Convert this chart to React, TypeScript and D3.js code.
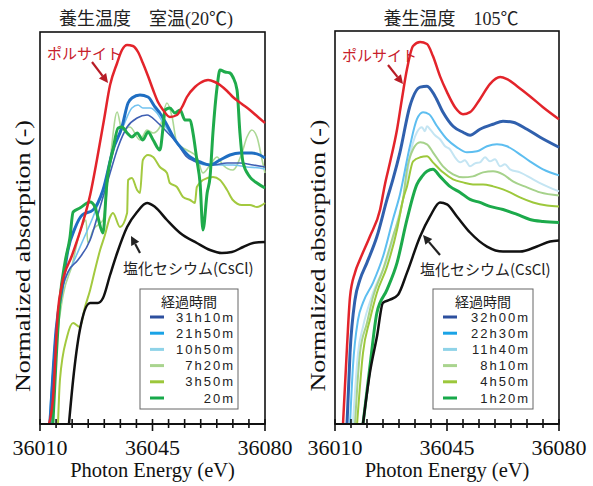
import React from "react";
import * as d3 from "d3";

type Pt = [number, number];

// x: photon energy (eV), y: normalized absorption
const energyDomain: [number, number] = [36010, 36080];
const absDomain: [number, number] = [0, 1.96];
const majorTicks = [36010, 36045, 36080];

const legendRT = ["31h10m", "21h50m", "10h50m", "7h20m", "3h50m", "20m"];
const legend105 = ["32h00m", "22h30m", "11h40m", "8h10m", "4h50m", "1h20m"];
const legendColors = ["#2d4f9e", "#1aa3e6", "#8fd3e8", "#a9d48e", "#9cc73b", "#17a94a"];

// ---- room temperature (20C)
const polluciteRT: Pt[] = [
  [36012.8, 0], [36014.0, 0.12], [36015.6, 0.57], [36016.8, 0.695], [36020.0, 0.845], [36023.1, 0.995],
  [36025.6, 1.145], [36027.7, 1.32], [36029.9, 1.52], [36031.8, 1.695], [36034.0, 1.805], [36035.5, 1.87],
  [36037.1, 1.895], [36038.9, 1.89], [36040.5, 1.86], [36042.0, 1.805], [36043.6, 1.74], [36045.2, 1.67],
  [36046.7, 1.61], [36048.3, 1.57], [36050.4, 1.535], [36052.6, 1.545], [36054.2, 1.585], [36055.7, 1.635],
  [36058.2, 1.685], [36059.8, 1.705], [36062.3, 1.72], [36064.4, 1.71], [36066.0, 1.695], [36068.2, 1.665],
  [36070.0, 1.635], [36072.8, 1.6], [36075.3, 1.57], [36077.8, 1.535], [36080, 1.505],
];
const rt31h10: Pt[] = [
  [36013.1, 0], [36014.7, 0.42], [36016.2, 0.62], [36018.7, 0.76], [36021.8, 0.82], [36025.6, 0.92],
  [36028.7, 1.085], [36031.8, 1.255], [36034.3, 1.385], [36037.1, 1.485], [36040.2, 1.53], [36043.3, 1.545],
  [36046.4, 1.51], [36049.5, 1.46], [36052.6, 1.405], [36055.7, 1.335], [36059.8, 1.305], [36063.8, 1.295],
  [36068.2, 1.305], [36072.2, 1.305], [36076.3, 1.295], [36080, 1.285],
];
const rt21h50: Pt[] = [
  [36013.1, 0], [36015.0, 0.47], [36016.8, 0.67], [36018.7, 0.87], [36020.9, 0.98], [36023.1, 1.045],
  [36026.5, 1.07], [36029.6, 1.17], [36032.7, 1.37], [36035.5, 1.485], [36037.4, 1.605], [36038.6, 1.63],
  [36041.1, 1.645], [36043.6, 1.635], [36045.8, 1.585], [36047.3, 1.555], [36049.5, 1.495], [36052.0, 1.42],
  [36054.5, 1.37], [36056.7, 1.335], [36059.8, 1.31], [36062.9, 1.295], [36066.0, 1.32], [36069.1, 1.345],
  [36072.2, 1.355], [36075.9, 1.355], [36078.4, 1.345], [36080, 1.33],
];
const rt10h50: Pt[] = [
  [36012.8, 0], [36014.7, 0.395], [36017.2, 0.685], [36020.3, 0.805], [36023.4, 0.92], [36026.5, 1.035],
  [36029.6, 1.17], [36032.7, 1.37], [36035.8, 1.485], [36038.6, 1.58], [36040.5, 1.595], [36042.0, 1.58],
  [36044.2, 1.58], [36046.4, 1.555], [36048.3, 1.505], [36051.4, 1.435], [36054.5, 1.37], [36057.6, 1.32],
  [36062.0, 1.295], [36066.0, 1.295], [36070.0, 1.295], [36074.4, 1.285], [36078.4, 1.28], [36080, 1.275],
];
const rt7h20: Pt[] = [
  [36013.7, 0], [36015.3, 0.42], [36017.2, 0.645], [36020.0, 0.795], [36022.4, 0.96], [36024.3, 1.02],
  [36024.9, 0.905], [36026.5, 0.97], [36029.6, 1.02], [36031.8, 1.32], [36034.0, 1.56], [36035.5, 1.47],
  [36038.0, 1.485], [36041.1, 1.42], [36043.3, 1.47], [36045.2, 1.455], [36047.3, 1.485], [36049.5, 1.605],
  [36051.1, 1.535], [36052.6, 1.405], [36055.7, 1.37], [36058.8, 1.335], [36060.7, 1.255], [36062.9, 1.295],
  [36065.1, 1.335], [36066.9, 1.295], [36070.0, 1.27], [36072.8, 1.355], [36074.4, 1.435], [36075.9, 1.47],
  [36077.5, 1.435], [36079.1, 1.32], [36080, 1.255],
];
const rt3h50: Pt[] = [
  [36015.6, 0], [36016.2, 0.22], [36018.4, 0.435], [36020.3, 0.505], [36022.4, 0.485], [36024.0, 0.585],
  [36025.6, 0.67], [36027.1, 0.77], [36028.7, 0.87], [36030.2, 0.945], [36031.8, 1.035], [36032.7, 1.055],
  [36034.9, 0.985], [36037.1, 1.055], [36037.4, 1.22], [36038.6, 1.23], [36040.2, 1.17], [36041.1, 1.155],
  [36042.0, 1.32], [36043.6, 1.345], [36045.2, 1.335], [36047.3, 1.285], [36049.5, 1.255], [36050.4, 1.205],
  [36052.6, 1.185], [36054.5, 1.135], [36056.7, 1.12], [36058.2, 1.105], [36058.8, 1.185], [36060.7, 1.22],
  [36063.8, 1.235], [36066.0, 1.22], [36068.2, 1.17], [36070.0, 1.12], [36072.8, 1.095], [36075.3, 1.095],
  [36077.5, 1.085], [36080, 1.105],
];
const rt20m: Pt[] = [
  [36014.0, 0], [36015.0, 0.32], [36016.2, 0.62], [36017.8, 0.81], [36019.3, 0.93], [36020.3, 1.06],
  [36022.4, 1.08], [36025.6, 1.11], [36027.1, 1.085], [36028.0, 1.035], [36029.6, 0.955], [36030.8, 1.205],
  [36032.7, 1.37], [36034.3, 1.48], [36035.5, 1.485], [36037.1, 1.455], [36038.6, 1.435], [36040.2, 1.455],
  [36042.0, 1.42], [36043.6, 1.46], [36045.2, 1.42], [36047.3, 1.37], [36048.3, 1.485], [36048.9, 1.57],
  [36050.4, 1.58], [36052.0, 1.555], [36053.6, 1.57], [36055.1, 1.52], [36056.7, 1.52], [36057.6, 1.455],
  [36058.8, 1.32], [36059.8, 1.205], [36060.7, 0.97], [36062.0, 1.155], [36062.9, 1.235], [36063.8, 1.455],
  [36065.1, 1.685], [36066.0, 1.77], [36067.6, 1.76], [36069.1, 1.755], [36070.0, 1.735], [36071.3, 1.67],
  [36072.2, 1.455], [36073.2, 1.305], [36075.3, 1.235], [36077.5, 1.205], [36080, 1.18],
];
const cesiumRT: Pt[] = [
  [36019.0, 0], [36020.3, 0.22], [36022.4, 0.47], [36025.6, 0.605], [36028.0, 0.605], [36029.6, 0.63],
  [36031.8, 0.745], [36034.0, 0.855], [36037.1, 0.985], [36040.2, 1.06], [36043.3, 1.105], [36045.8, 1.085],
  [36049.5, 1.02], [36053.6, 0.955], [36058.8, 0.905], [36062.9, 0.87], [36066.6, 0.855], [36069.7, 0.86],
  [36073.2, 0.885], [36076.3, 0.905], [36080, 0.91],
];

// ---- 105C
const pollucite105: Pt[] = [
  [36012.5, 0], [36013.75, 0.385], [36014.7, 0.635], [36016.25, 0.755], [36017.8, 0.82], [36020.9, 0.935],
  [36024.1, 1.07], [36025.6, 1.195], [36027.2, 1.305], [36029.4, 1.47], [36030.9, 1.62], [36032.5, 1.77],
  [36034.4, 1.885], [36036.6, 1.905], [36038.75, 1.895], [36040.6, 1.835], [36042.8, 1.735], [36045.0, 1.655],
  [36047.5, 1.58], [36050.0, 1.545], [36052.2, 1.555], [36055.3, 1.62], [36058.4, 1.695], [36061.6, 1.73],
  [36063.75, 1.72], [36066.9, 1.685], [36070.9, 1.635], [36075.0, 1.58], [36080, 1.52],
];
const h32h00: Pt[] = [
  [36013.75, 0], [36014.7, 0.355], [36016.25, 0.62], [36017.8, 0.72], [36020.0, 0.805], [36023.1, 0.935],
  [36026.25, 1.12], [36028.1, 1.22], [36030.3, 1.355], [36033.4, 1.585], [36036.6, 1.68], [36038.75, 1.685],
  [36041.25, 1.635], [36043.75, 1.555], [36046.9, 1.485], [36050.0, 1.455], [36052.2, 1.44], [36055.3, 1.47],
  [36059.4, 1.495], [36062.5, 1.51], [36065.6, 1.505], [36070.0, 1.47], [36074.1, 1.43], [36080, 1.38],
];
const h22h30: Pt[] = [
  [36014.7, 0], [36015.6, 0.285], [36017.2, 0.52], [36018.75, 0.605], [36021.9, 0.705], [36025.0, 0.835],
  [36028.1, 1.02], [36030.3, 1.145], [36033.4, 1.385], [36035.6, 1.52], [36037.5, 1.555], [36039.4, 1.545],
  [36041.9, 1.485], [36045.0, 1.42], [36048.1, 1.38], [36051.25, 1.355], [36054.4, 1.36], [36057.5, 1.385],
  [36060.6, 1.395], [36063.75, 1.385], [36066.9, 1.355], [36070.9, 1.31], [36075.0, 1.27], [36080, 1.24],
];
const h11h40: Pt[] = [
  [36015.6, 0], [36017.2, 0.355], [36018.75, 0.485], [36021.9, 0.655], [36026.25, 0.82], [36029.4, 1.005],
  [36031.9, 1.17], [36033.4, 1.335], [36035.6, 1.455], [36037.2, 1.48], [36038.1, 1.46], [36038.75, 1.485],
  [36039.7, 1.47], [36041.25, 1.44], [36042.8, 1.42], [36044.4, 1.385], [36045.9, 1.37], [36047.5, 1.33],
  [36049.1, 1.305], [36050.6, 1.315], [36052.2, 1.285], [36053.75, 1.3], [36055.3, 1.305], [36056.9, 1.33],
  [36058.4, 1.31], [36060.0, 1.32], [36061.6, 1.285], [36063.1, 1.295], [36064.7, 1.27], [36067.8, 1.255],
  [36071.9, 1.22], [36076.25, 1.185], [36080, 1.16],
];
const h8h10: Pt[] = [
  [36016.25, 0], [36017.8, 0.355], [36020.0, 0.505], [36021.9, 0.635], [36025.0, 0.77], [36028.1, 0.935],
  [36031.25, 1.12], [36032.5, 1.27], [36034.4, 1.37], [36036.6, 1.405], [36038.75, 1.395], [36040.6, 1.355],
  [36043.75, 1.285], [36046.9, 1.245], [36050.0, 1.23], [36053.1, 1.235], [36056.25, 1.255], [36059.4, 1.26],
  [36062.5, 1.245], [36065.6, 1.21], [36070.0, 1.18], [36074.1, 1.155], [36080, 1.14],
];
const h4h50: Pt[] = [
  [36016.9, 0], [36018.75, 0.355], [36020.9, 0.52], [36023.1, 0.655], [36026.25, 0.785], [36029.4, 0.97],
  [36031.25, 1.12], [36032.5, 1.185], [36034.4, 1.31], [36036.6, 1.33], [36038.75, 1.335], [36040.6, 1.305],
  [36043.75, 1.255], [36046.9, 1.22], [36050.0, 1.205], [36053.1, 1.195], [36056.25, 1.195], [36059.4, 1.185],
  [36062.5, 1.17], [36064.7, 1.155], [36067.8, 1.13], [36071.9, 1.105], [36076.25, 1.09], [36080, 1.085],
];
const h1h20: Pt[] = [
  [36018.75, 0], [36020.9, 0.285], [36023.1, 0.555], [36026.25, 0.67], [36029.4, 0.805], [36032.5, 1.02],
  [36035.6, 1.195], [36037.2, 1.235], [36038.75, 1.26], [36040.6, 1.27], [36042.8, 1.235], [36045.9, 1.185],
  [36049.1, 1.155], [36052.2, 1.12], [36055.3, 1.105], [36058.4, 1.085], [36062.5, 1.07], [36066.9, 1.045],
  [36070.9, 1.02], [36075.0, 1.01], [36080, 1.005],
];
const cesium105: Pt[] = [
  [36018.75, 0], [36020.9, 0.255], [36023.1, 0.435], [36025.0, 0.605], [36027.2, 0.62], [36029.7, 0.645],
  [36032.5, 0.755], [36036.6, 0.935], [36039.7, 1.035], [36042.8, 1.105], [36045.0, 1.095], [36048.1, 1.035],
  [36052.2, 0.955], [36057.5, 0.885], [36062.5, 0.86], [36067.8, 0.86], [36073.1, 0.885], [36077.2, 0.91],
  [36080, 0.915],
];

type Series = { data: Pt[]; color: string; width: number };

const seriesRT: Series[] = [
  { data: rt7h20, color: "#acd895", width: 1.6 },
  { data: rt3h50, color: "#a3c93f", width: 2 },
  { data: rt10h50, color: "#72c2f0", width: 1.6 },
  { data: rt31h10, color: "#3f5fb3", width: 1.6 },
  { data: rt21h50, color: "#1f6ec2", width: 3 },
  { data: rt20m, color: "#1fab4b", width: 3 },
  { data: polluciteRT, color: "#e3242b", width: 2.5 },
  { data: cesiumRT, color: "#111111", width: 2.5 },
];
const series105: Series[] = [
  { data: h11h40, color: "#c4e5f3", width: 2 },
  { data: h8h10, color: "#a6d28b", width: 2 },
  { data: h4h50, color: "#9dc83b", width: 2 },
  { data: h22h30, color: "#5dbef0", width: 2 },
  { data: h1h20, color: "#1caa4b", width: 3 },
  { data: h32h00, color: "#3060ad", width: 3 },
  { data: pollucite105, color: "#e3242b", width: 2.5 },
  { data: cesium105, color: "#111111", width: 2.5 },
];

const serif = "'Liberation Serif', 'Times New Roman', 'Noto Sans CJK JP', serif";
const sans = "'Noto Sans CJK JP', 'Liberation Sans', sans-serif";

const Arrow = ({ x1, y1, x2, y2, color }: { x1: number; y1: number; x2: number; y2: number; color: string }) => {
  const a = Math.atan2(y2 - y1, x2 - x1);
  const L = 9, Wd = 4.5;
  const bx = x2 - L * Math.cos(a), by = y2 - L * Math.sin(a);
  const p = [
    [x2, y2],
    [bx + Wd * Math.sin(a), by - Wd * Math.cos(a)],
    [bx - Wd * Math.sin(a), by + Wd * Math.cos(a)],
  ];
  return (
    <g>
      <line x1={x1} y1={y1} x2={bx} y2={by} stroke={color} strokeWidth={2.2} />
      <polygon points={p.map((q) => q.join(",")).join(" ")} fill={color} />
    </g>
  );
};

type PanelProps = {
  left: number; right: number; top: number; bottom: number;
  title: string; titleX: number; series: Series[]; legend: string[];
  legendBox: [number, number]; // left, right
  polLabel: [number, number]; polArrow: [number, number, number, number];
  csLabel: [number, number]; csArrow: [number, number, number, number];
  yLabelX: number;
};

const Panel = (p: PanelProps) => {
  const x = d3.scaleLinear().domain(energyDomain).range([p.left, p.right]);
  const y = d3.scaleLinear().domain(absDomain).range([p.bottom, p.top]);
  const line = d3.line<Pt>().x((d) => x(d[0])).y((d) => y(d[1])).curve(d3.curveMonotoneX);
  const ticks = d3.range(energyDomain[0], energyDomain[1] + 1, 5);
  const cx = (p.left + p.right) / 2;
  const [lx0, lx1] = p.legendBox;
  const rowY = (i: number) => 317 + i * 16.2;

  return (
    <g>
      <text x={p.titleX} y={25} textAnchor="middle" fontFamily={serif} fontSize={18} fill="#222">{p.title}</text>
      <rect x={p.left} y={p.top} width={p.right - p.left} height={p.bottom - p.top} fill="none" stroke="#111" strokeWidth={1.6} />
      {p.series.map((s, i) => (
        <path key={i} d={line(s.data) || ""} fill="none" stroke={s.color} strokeWidth={s.width} strokeLinejoin="round" />
      ))}
      <line x1={p.left} x2={p.right} y1={p.bottom} y2={p.bottom} stroke="#111" strokeWidth={2} />
      {ticks.map((t) => {
        const major = majorTicks.includes(t);
        return <line key={t} x1={x(t)} x2={x(t)} y1={p.bottom - 5} y2={p.bottom + (major ? 7 : 4)} stroke="#111" strokeWidth={1.6} />;
      })}
      {majorTicks.map((t) => (
        <text key={t} x={x(t)} y={455} textAnchor="middle" fontFamily={serif} fontSize={22} fill="#111">{t}</text>
      ))}
      <text x={cx} y={477} textAnchor="middle" fontFamily={serif} fontSize={20.5} fill="#111">Photon Energy (eV)</text>
      <text transform={`translate(${p.yLabelX},${(p.top + p.bottom) / 2 + 28}) rotate(-90)`} textAnchor="middle"
        fontFamily={serif} fontSize={22} textLength={272} lengthAdjust="spacingAndGlyphs" fill="#111">Normalized absorption (-)</text>

      <text x={p.polLabel[0]} y={p.polLabel[1]} fontFamily={sans} fontSize={15} fill="#c8202a">ポルサイト</text>
      <Arrow x1={p.polArrow[0]} y1={p.polArrow[1]} x2={p.polArrow[2]} y2={p.polArrow[3]} color="#b81c26" />
      <text x={p.csLabel[0]} y={p.csLabel[1]} fontFamily={sans} fontSize={15} fill="#222">塩化セシウム(CsCl)</text>
      <Arrow x1={p.csArrow[0]} y1={p.csArrow[1]} x2={p.csArrow[2]} y2={p.csArrow[3]} color="#222" />

      <rect x={lx0} y={289} width={lx1 - lx0} height={120} fill="#fff" stroke="#666" strokeWidth={1} />
      <text x={(lx0 + lx1) / 2} y={307} textAnchor="middle" fontFamily={sans} fontSize={14} fill="#222">経過時間</text>
      {p.legend.map((l, i) => (
        <g key={l}>
          <line x1={lx0 + 10} x2={lx0 + 24} y1={rowY(i)} y2={rowY(i)} stroke={legendColors[i]} strokeWidth={3} />
          <text x={lx1 - 3} y={rowY(i) + 4.5} textAnchor="end" fontFamily="'Liberation Sans', sans-serif" fontSize={13}
            letterSpacing={2} fill="#222">{l}</text>
        </g>
      ))}
    </g>
  );
};

export default function App() {
  return (
    <svg width={593} height={486} viewBox="0 0 593 486"
      style={{ position: "absolute", left: 0, top: 0, display: "block" }}>
      <rect width={593} height={486} fill="#fff" />
      <Panel left={40} right={265} top={32} bottom={424} title="養生温度　室温(20℃)" titleX={146}
        series={seriesRT} legend={legendRT} legendBox={[140, 238]}
        polLabel={[47, 59]} polArrow={[92, 62, 108, 83]}
        csLabel={[123, 274]} csArrow={[140, 253, 131, 236]} yLabelX={30} />
      <Panel left={335} right={559} top={31} bottom={424} title="養生温度　105℃" titleX={451}
        series={series105} legend={legend105} legendBox={[433, 533]}
        polLabel={[342, 61]} polArrow={[388, 65, 403, 84]}
        csLabel={[420, 275]} csArrow={[440, 255, 423, 235]} yLabelX={325} />
    </svg>
  );
}
